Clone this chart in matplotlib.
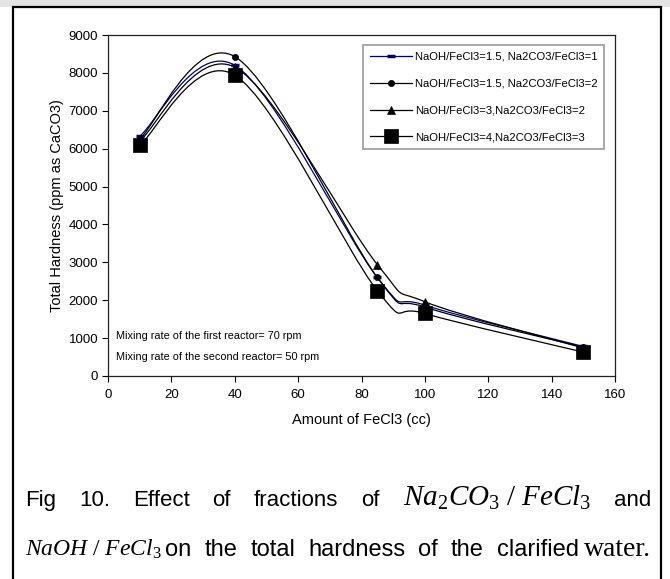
import numpy as np
import matplotlib
matplotlib.use("Agg")
import matplotlib.pyplot as plt
from matplotlib.path import Path
from matplotlib.patches import PathPatch, Rectangle
from matplotlib.lines import Line2D

plt.rcParams['font.family'] = ['Liberation Sans', 'DejaVu Sans']
plt.rcParams['mathtext.fontset'] = 'custom'
plt.rcParams['mathtext.rm'] = 'Liberation Serif'
plt.rcParams['mathtext.it'] = 'Liberation Serif:italic'

# data
fecl3 = [10, 40, 85, 100, 150]
hard_15_1 = [6330, 8200, 2600, 1870, 780]
hard_15_2 = [6250, 8430, 2600, 1820, 760]
hard_3_2 = [6200, 8150, 2940, 1960, 740]
hard_4_3 = [6090, 7940, 2250, 1650, 630]

labels = ['NaOH/FeCl3=1.5, Na2CO3/FeCl3=1',
          'NaOH/FeCl3=1.5, Na2CO3/FeCl3=2',
          'NaOH/FeCl3=3,Na2CO3/FeCl3=2',
          'NaOH/FeCl3=4,Na2CO3/FeCl3=3']
series = [hard_15_1, hard_15_2, hard_3_2, hard_4_3]
colors = ['#000080', 'black', 'black', 'black']
markers = ['_', 'o', '^', 's']
msizes = [6, 4.5, 5.5, 9.5]
mews = [2.5, 0.5, 0.5, 0.5]


def smooth_path(x, y):
    # excel-like smoothed line: cubic bezier through the points
    p = np.column_stack([x, y]).astype(float)
    n = len(p)
    verts = [p[0]]
    codes = [Path.MOVETO]
    for i in range(n - 1):
        prev = p[i - 1] if i > 0 else p[i]
        nxt = p[i + 2] if i + 2 < n else p[i + 1]
        c1 = p[i] + (p[i + 1] - prev) / 6.0
        c2 = p[i + 1] - (nxt - p[i]) / 6.0
        verts += [c1, c2, p[i + 1]]
        codes += [Path.CURVE4] * 3
    return Path(verts, codes)


fig = plt.figure(figsize=(6.7, 5.79), dpi=100)
ax = fig.add_axes([108 / 670, 1 - 376 / 579, (615 - 108) / 670, (376 - 35) / 579])

handles = []
for ys, c, m, ms, mew, lab in zip(series, colors, markers, msizes, mews, labels):
    ax.add_patch(PathPatch(smooth_path(fecl3, ys), fill=False, edgecolor=c, lw=0.9))
    ax.plot(fecl3, ys, linestyle='none', marker=m, color=c, markersize=ms,
            markeredgewidth=mew, zorder=3)
    handles.append(Line2D([], [], color=c, lw=0.9, marker=m, markersize=ms,
                          markeredgewidth=mew))

ax.set_xlim(0, 160)
ax.set_ylim(0, 9000)
ax.set_xticks(range(0, 161, 20))
ax.set_yticks(range(0, 9001, 1000))
ax.tick_params(direction='out', length=4, width=0.8, labelsize=9.5, pad=5)
ax.tick_params(axis='y', pad=3)
for s in ax.spines.values():
    s.set_linewidth(0.9)
    s.set_color('#222222')
ax.set_xlabel('Amount of FeCl3 (cc)', fontsize=10.5, labelpad=9)
ax.set_ylabel('Total Hardness (ppm as CaCO3)', fontsize=10.5, labelpad=3)

leg = ax.legend(handles, labels, loc='upper right', bbox_to_anchor=(604 / 670, 1 - 45 / 579),
                bbox_transform=fig.transFigure, fontsize=8.1, frameon=True, fancybox=False,
                handlelength=3.8, handletextpad=0.2, labelspacing=1.5, borderpad=0.6,
                borderaxespad=0)
leg.get_frame().set_edgecolor('#808080')
leg.get_frame().set_linewidth(1.2)

ax.text(0.015, 0.108, 'Mixing rate of the first reactor= 70 rpm', transform=ax.transAxes,
        fontsize=7.8)
ax.text(0.015, 0.048, 'Mixing rate of the second reactor= 50 rpm', transform=ax.transAxes,
        fontsize=7.8)

# page decoration
fig.patches.append(Rectangle((0, 1 - 7 / 579), 1, 7 / 579, transform=fig.transFigure,
                             facecolor='#e4e4e4', edgecolor='none'))
fig.patches.append(Rectangle((13 / 670, -0.05), (661 - 13) / 670, 1.05 - 7 / 579,
                             transform=fig.transFigure, fill=False, edgecolor='black', lw=1.6))

# caption, words spread between two x limits (pixels)
cap = 16
line1 = [('Fig', {}), ('10.', {}), ('Effect', {}), ('of', {}), ('fractions', {}), ('of', {}),
         (r'$Na_2CO_3\ /\ FeCl_3$', {'fontsize': 21}), ('and', {})]
line2 = [('on', {}), ('the', {}), ('total', {}), ('hardness', {}), ('of', {}), ('the', {}),
         ('clarified', {})]

renderer = fig.canvas.get_renderer()


def justify(words, ypix, x0, x1, size):
    texts = []
    for w, kw in words:
        opts = {'fontsize': size}
        opts.update(kw)
        texts.append(fig.text(0, 1 - ypix / 579, w, va='baseline', **opts))
    widths = [t.get_window_extent(renderer).width for t in texts]
    gap = (x1 - x0 - sum(widths)) / (len(texts) - 1)
    x = x0
    for t, wd in zip(texts, widths):
        t.set_x(x / 670)
        x += wd + gap


justify(line1, 506, 25, 651, cap)
fig.text(25 / 670, 1 - 556 / 579, r'$NaOH\ /\ FeCl_3$', fontsize=17, va='baseline')
justify(line2, 556, 165, 579, 17)
fig.text(584 / 670, 1 - 556 / 579, 'water.', fontsize=20, va='baseline',
         family='Liberation Serif')

fig.savefig('out.png', dpi=100)
